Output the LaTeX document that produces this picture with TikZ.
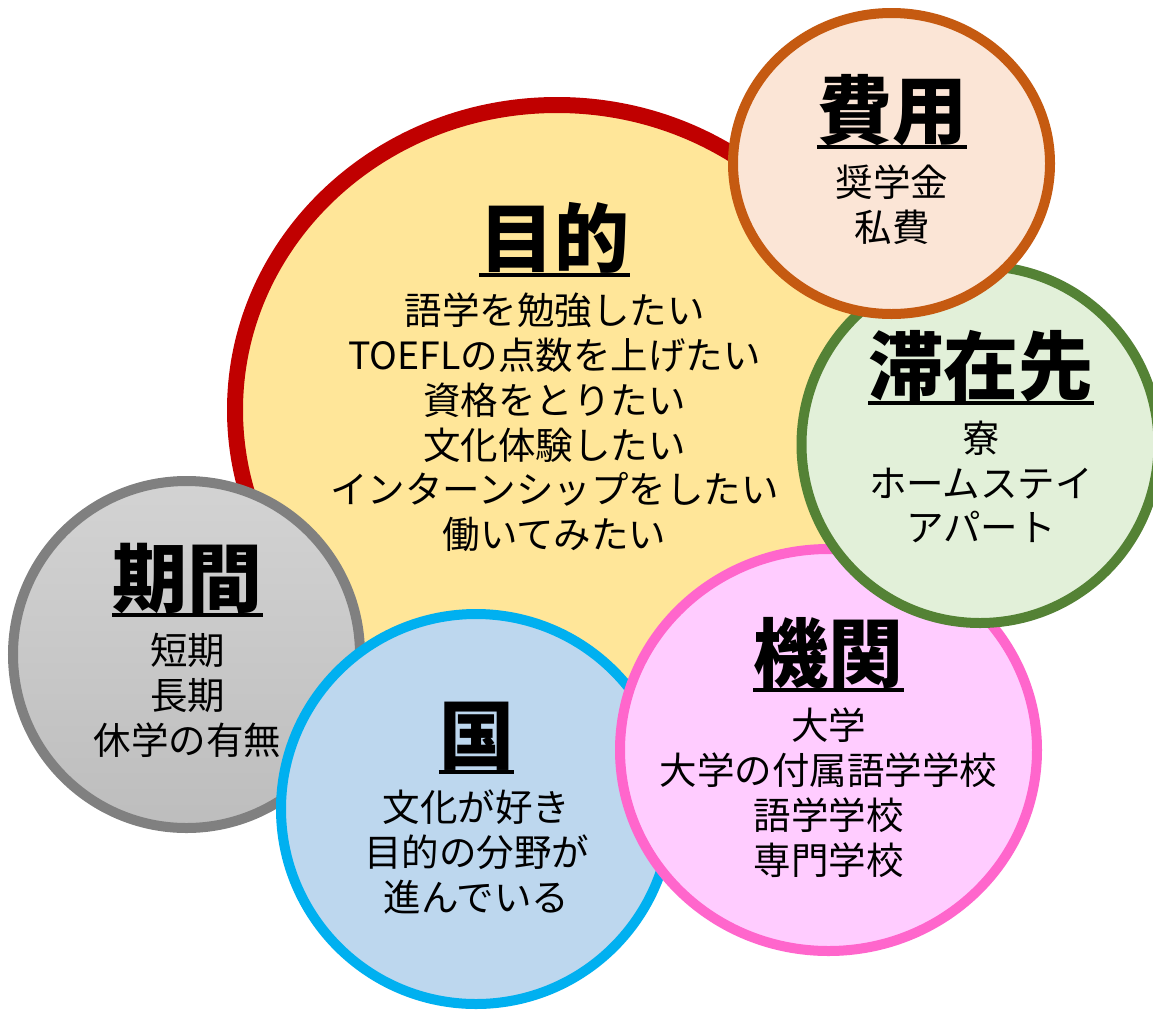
\documentclass[tikz,border=0pt]{standalone}
\usepackage{fontspec}
\setmainfont{Noto Sans CJK JP}
\definecolor{mkfill}{HTML}{FFE699}
\definecolor{mkline}{HTML}{C00000}
\definecolor{hyfill}{HTML}{FBE5D6}
\definecolor{hyline}{HTML}{C55A11}
\definecolor{tzfill}{HTML}{E2F0D9}
\definecolor{tzline}{HTML}{548235}
\definecolor{kkfill}{HTML}{FFCCFF}
\definecolor{kkline}{HTML}{FF66CC}
\definecolor{knfill}{HTML}{BDD7EE}
\definecolor{knline}{HTML}{00B0F0}
\definecolor{kgtop}{HTML}{D3D3D3}
\definecolor{kgbot}{HTML}{BDBDBD}
\definecolor{kgline}{HTML}{808080}
\tikzset{
  bubble/.style={line width=10pt},
  ttl/.style={font=\fontsize{75}{80}\selectfont\bfseries, inner sep=0pt, anchor=base},
  bdy/.style={font=\fontsize{37.5}{45}\selectfont, inner sep=0pt, anchor=base},
  uline/.style={line width=4pt},
}
\newcommand\bubbletext[5]{%
  \node[ttl] (#1) at (#2,#3) {#4};
  \draw[uline] ([yshift=-8.5pt]#1.base west) -- ([yshift=-8.5pt]#1.base east);
  \foreach \t [count=\i] in {#5} \node[bdy] (#1-\i) at (#2,#3+58.4+44.7*\i-44.7) {\t};
}
\begin{document}
\begin{tikzpicture}[x=1pt,y=-1pt]
\fill[white] (0,0) rectangle (1153,1010);
\useasboundingbox (0,0) rectangle (1153,1010);
% circles, back to front
\draw[bubble, line width=16pt, fill=mkfill, draw=mkline] (557,410) ellipse [x radius=322pt, y radius=305pt];
\draw[bubble, top color=kgtop, bottom color=kgbot, draw=kgline] (186.5,654.5) circle [radius=173.5pt];
\draw[bubble, fill=knfill, draw=knline] (476,809) circle [radius=195pt];
\draw[bubble, fill=kkfill, draw=kkline] (828.5,750) ellipse [x radius=208.5pt, y radius=201pt];
\draw[bubble, fill=tzfill, draw=tzline] (980,444.5) circle [radius=178.5pt];
\draw[bubble, fill=hyfill, draw=hyline] (891.5,163.5) ellipse [x radius=158.5pt, y radius=150.5pt];
% texts
\bubbletext{mk}{554.5}{266.5}{目的}{語学を勉強したい,TOEFLの点数を上げたい,資格をとりたい,文化体験したい,インターンシップをしたい,働いてみたい}
\bubbletext{hy}{892}{138}{費用}{奨学金,私費}
\bubbletext{tz}{981}{394}{滞在先}{寮,ホームステイ,アパート}
\bubbletext{kk}{828.5}{681.5}{機関}{大学,大学の付属語学学校,語学学校,専門学校}
\bubbletext{kn}{476.5}{763.5}{国}{文化が好き,目的の分野が,進んでいる}
\bubbletext{kg}{187.5}{606.5}{期間}{短期,長期,休学の有無}
\end{tikzpicture}
\end{document}
